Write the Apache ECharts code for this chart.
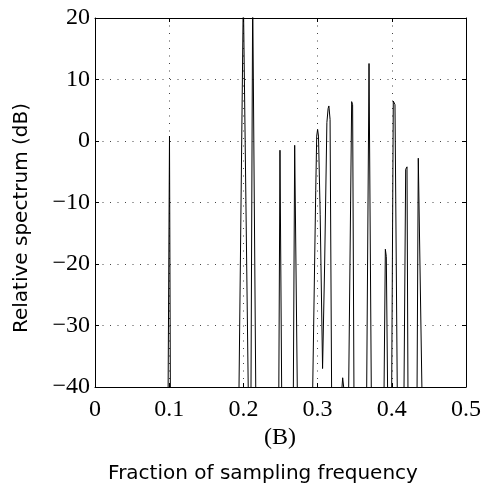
<!DOCTYPE html>
<html>
<head>
<meta charset="utf-8">
<script src="https://cdn.jsdelivr.net/npm/echarts@6/dist/echarts.min.js"></script>
<style>
  html, body { margin: 0; padding: 0; background: #fff; }
  #chart { width: 488px; height: 491px; }
</style>
</head>
<body>
<div id="chart"></div>
<script>
// spectrum trace (values below -40 dB are clipped at the frame)
const freq = [
  0, 0.0985, 0.1004, 0.1016,
  0.194, 0.1999, 0.2005, 0.2066,
  0.2102, 0.2125, 0.2133, 0.2167,
  0.2477, 0.2493, 0.2516,
  0.2673, 0.2691, 0.2727,
  0.2933, 0.2975, 0.2988, 0.3, 0.3012, 0.3035, 0.3067, 0.3095, 0.3125, 0.3142, 0.3152, 0.3168, 0.3189,
  0.3323, 0.3338, 0.336,
  0.3418, 0.3459, 0.3472, 0.349,
  0.3661, 0.3693, 0.3724,
  0.3895, 0.3913, 0.3926, 0.3944,
  0.3998, 0.402, 0.4043, 0.4074,
  0.4164, 0.4187, 0.4205, 0.4218,
  0.434, 0.4357, 0.4407,
  0.5
];
const level = [
  -41, -41, 0.8, -41,
  -41, 24, 24, -41,
  -41, 24, 24, -41,
  -41, -1.5, -41,
  -41, -0.7, -41,
  -41, -8, 0.8, 1.9, 0.8, -12, -37, -20, 3, 5.3, 5.7, 3.5, -41,
  -41, -38.5, -41,
  -41, 6.4, 5.9, -41,
  -41, 12.6, -41,
  -41, -17.6, -18.8, -41,
  -41, 6.5, 5.9, -41,
  -41, -4.6, -4.2, -41,
  -41, -2.8, -41,
  -41
];
const xTicks = [0, 0.1, 0.2, 0.3, 0.4, 0.5];
const yTicks = [-40, -30, -20, -10, 0, 10, 20];

const chart = echarts.init(document.getElementById('chart'));

const serif = '"Liberation Serif", "DejaVu Serif", serif';
const sans = '"DejaVu Sans", sans-serif';
const dots = { color: '#444', type: [1, 6.5], width: 1 };
const minus = v => String(v).replace('-', '\u2212');

const frameAxis = {
  axisLine: { show: true, onZero: false, lineStyle: { color: '#000', width: 1 } },
  axisTick: { show: true, inside: true, length: 4, lineStyle: { color: '#000' } },
  axisLabel: { show: false },
  splitLine: { show: false },
};

chart.setOption({
  animation: false,
  grid: { left: 95, top: 18, width: 371, height: 369 },
  xAxis: [
    {
      type: 'value',
      position: 'bottom',
      min: xTicks[0],
      max: xTicks[xTicks.length - 1],
      interval: 0.1,
      axisLine: { onZero: false, lineStyle: { color: '#000', width: 1 } },
      axisTick: { inside: true, length: 4, lineStyle: { color: '#000' } },
      axisLabel: {
        color: '#000', fontSize: 24, fontFamily: serif, margin: 11,
        formatter: v => String(xTicks.find(t => Math.abs(t - v) < 1e-9) ?? v),
      },
      splitLine: { show: true, lineStyle: dots },
    },
    {
      ...frameAxis,
      type: 'value',
      position: 'top',
      min: xTicks[0],
      max: xTicks[xTicks.length - 1],
      interval: 0.1,
    },
  ],
  yAxis: [
    {
      type: 'value',
      position: 'left',
      min: yTicks[0],
      max: yTicks[yTicks.length - 1],
      interval: 10,
      axisLine: { show: true, onZero: false, lineStyle: { color: '#000', width: 1 } },
      axisTick: { show: true, inside: true, length: 4, lineStyle: { color: '#000' } },
      axisLabel: { color: '#000', fontSize: 24, fontFamily: serif, margin: 5, formatter: minus },
      splitLine: { show: true, lineStyle: dots },
    },
    {
      ...frameAxis,
      type: 'value',
      position: 'right',
      min: yTicks[0],
      max: yTicks[yTicks.length - 1],
      interval: 10,
    },
  ],
  graphic: [
    {
      type: 'text', x: 22, y: 218, rotation: Math.PI / 2,
      style: { text: 'Relative spectrum (dB)', font: '20px ' + sans, fill: '#000', align: 'center', verticalAlign: 'middle' },
    },
    {
      type: 'text', x: 280, y: 438,
      style: { text: '(B)', font: '24px ' + serif, fill: '#000', align: 'center', verticalAlign: 'middle' },
    },
    {
      type: 'text', x: 263, y: 474,
      style: { text: 'Fraction of sampling frequency', font: '20px ' + sans, fill: '#000', align: 'center', verticalAlign: 'middle' },
    },
  ],
  series: [
    {
      type: 'line',
      data: freq.map((f, i) => [f, level[i]]),
      showSymbol: false,
      clip: true,
      lineStyle: { color: '#000', width: 1 },
      xAxisIndex: 0,
      yAxisIndex: 0,
    },
  ],
});
</script>
</body>
</html>
